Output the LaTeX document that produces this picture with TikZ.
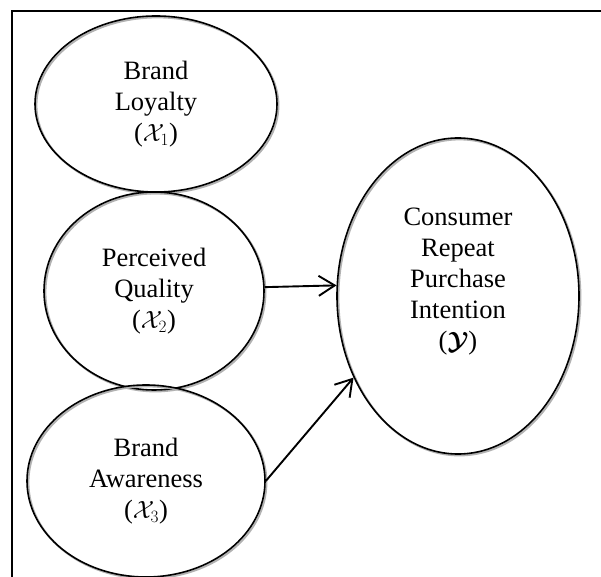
\documentclass[tikz,border=0pt]{standalone}
\usepackage{amsmath,amssymb}
\usepackage{fontspec}
\setmainfont{Liberation Serif}
\usetikzlibrary{arrows.meta,shapes.geometric}
\newcommand{\konstr}{\fontsize{26.5}{31}\selectfont}
\tikzset{konstrukt/.style={ellipse,draw,line width=1.6pt,inner sep=0,align=center,font=\konstr,
    preaction={draw=black!30,line width=2pt,transform canvas={shift={(1.4pt,-1.4pt)}}}},
  pfeil/.style={line width=1.9pt,-{Straight Barb[length=16pt,width=20pt,line width=1.9pt]}},
  rahmen/.style={line width=2.6pt}}

\begin{document}
\begin{tikzpicture}[x=1pt,y=1pt]
\useasboundingbox (0,0) rectangle (601,576);
% drei Einflussgroessen links, Zielgroesse rechts; Rahmen laeuft rechts/unten aus dem Bild
\draw[rahmen] (12,-10) -- (12,565) -- (620,565);
\node[konstrukt,minimum width=242pt,minimum height=176pt] (loyal) at (156,472)
  {Brand\\Loyalty\\(\(\mathcal{X}_1\))};
\node[konstrukt,minimum width=220pt,minimum height=198pt] (quali) at (154,285)
  {Perceived\\Quality\\(\(\mathcal{X}_2\))};
\node[konstrukt,minimum width=238pt,minimum height=192pt] (aware) at (146,95)
  {Brand\\Awareness\\(\(\mathcal{X}_3\))};
\node[konstrukt,minimum width=242pt,minimum height=316pt] (absicht) at (458,280)
  {Consumer\\Repeat\\Purchase\\Intention\\ (\(\boldsymbol{\mathcal{Y}}\))\\[4pt]};
\draw[pfeil] (quali.2) -- (absicht.175);
\draw[pfeil] (aware.east) -- (absicht.218);
\end{tikzpicture}
\end{document}
